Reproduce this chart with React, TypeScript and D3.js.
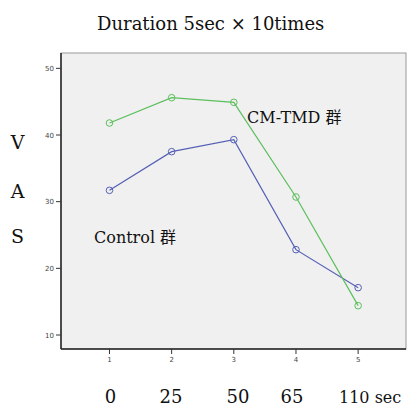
import React from "react";
import * as d3 from "d3";

const categories = [1, 2, 3, 4, 5];
const cmTmd = [41.8, 45.6, 44.9, 30.7, 14.4];
const control = [31.7, 37.5, 39.3, 22.8, 17.1];
const yTicks = [10, 20, 30, 40, 50];
const timeLabels = ["0", "25", "50", "65", "110 sec"];

export default function App() {
  const W = 407, H = 407;
  const left = 61, right = 406, top = 53, bottom = 349;
  const x = d3.scaleLinear().domain([0.22, 5.77]).range([left, right]);
  const y = d3.scaleLinear().domain([7.9, 52.3]).range([bottom, top]);
  const line = d3.line<number>().x((_, i) => x(categories[i])).y((d) => y(d));
  const green = "#5cbf5c";
  const blue = "#5560b5";
  const serif = "'DejaVu Serif', 'Noto Sans CJK JP', serif";
  const labelX = [110.5, 171, 238, 292, 339];
  return (
    <svg width={W} height={H} style={{ position: "absolute", left: 0, top: 0, background: "#fff" }}>
      <text x={97} y={30} fontFamily={serif} fontSize={18} fill="#111">
        Duration 5sec × 10times
      </text>
      <rect x={left} y={top} width={right - left} height={bottom - top} fill="#f0f0f0" stroke="#999" strokeWidth={1} />
      <line x1={left} x2={left} y1={top} y2={bottom} stroke="#222" strokeWidth={1.5} />
      <line x1={left} x2={right} y1={bottom} y2={bottom} stroke="#222" strokeWidth={1.5} />
      {yTicks.map((t) => (
        <g key={t}>
          <line x1={left - 5} x2={left} y1={y(t)} y2={y(t)} stroke="#333" strokeWidth={1} />
          <text x={left - 7} y={y(t) + 2.5} fontSize={7} fontFamily="'DejaVu Sans', sans-serif" textAnchor="end" fill="#444">
            {t}
          </text>
        </g>
      ))}
      {categories.map((c) => (
        <g key={c}>
          <line x1={x(c)} x2={x(c)} y1={bottom} y2={bottom + 5} stroke="#333" strokeWidth={1} />
          <text x={x(c)} y={bottom + 13} fontSize={7} fontFamily="'DejaVu Sans', sans-serif" textAnchor="middle" fill="#444">
            {c}
          </text>
        </g>
      ))}
      <path d={line(control) || ""} fill="none" stroke={blue} strokeWidth={1.2} />
      <path d={line(cmTmd) || ""} fill="none" stroke={green} strokeWidth={1.2} />
      {control.map((v, i) => (
        <circle key={"b" + i} cx={x(categories[i])} cy={y(v)} r={3.3} fill="none" stroke={blue} strokeWidth={1} />
      ))}
      {cmTmd.map((v, i) => (
        <circle key={"g" + i} cx={x(categories[i])} cy={y(v)} r={3.3} fill="none" stroke={green} strokeWidth={1} />
      ))}
      <text x={247} y={123} fontFamily={serif} fontSize={16} fill="#111">CM-TMD 群</text>
      <text x={94} y={243} fontFamily={serif} fontSize={16} fill="#111">Control 群</text>
      {["V", "A", "S"].map((s, i) => (
        <text key={s} x={17.5} y={[149, 198, 243][i]} fontFamily={serif} fontSize={19} textAnchor="middle" fill="#111">{s}</text>
      ))}
      {timeLabels.map((t, i) => (
        <text key={t} x={labelX[i]} y={402.5} fontFamily={serif} fontSize={i === 4 ? 16 : 18}
          textAnchor={i === 4 ? "start" : "middle"} fill="#111">{t}</text>
      ))}
    </svg>
  );
}
